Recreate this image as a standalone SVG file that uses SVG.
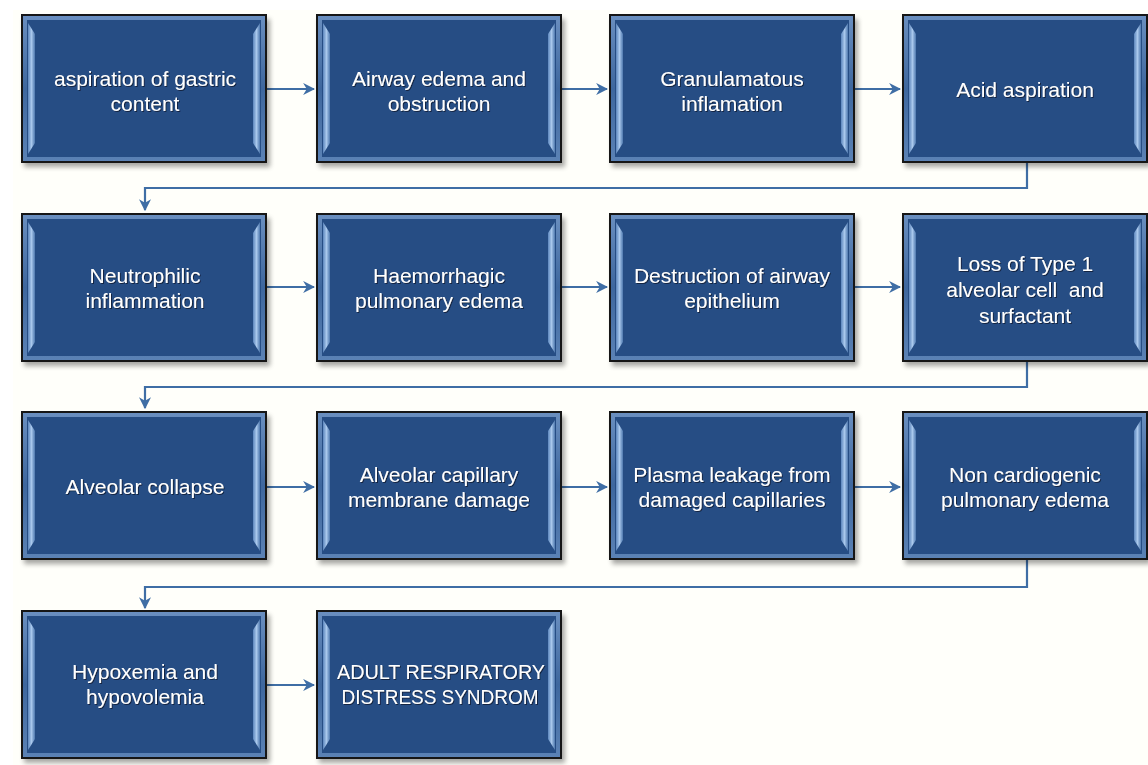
<svg xmlns="http://www.w3.org/2000/svg" xmlns:xlink="http://www.w3.org/1999/xlink" width="1148" height="765" viewBox="0 0 1148 765">
<defs>
<style>
.t{font-family:"Liberation Sans",Arial,sans-serif;font-size:21px;fill:#ffffff;text-anchor:middle;}
.c{fill:none;stroke:#3f6ea5;stroke-width:2.2;}
</style>
<linearGradient id="edge" x1="0" y1="0" x2="0" y2="1">
<stop offset="0" stop-color="#6a8fc0"/>
<stop offset="0.5" stop-color="#3e679e"/>
<stop offset="1" stop-color="#5b82b5"/>
</linearGradient>
<linearGradient id="strip" x1="0" y1="0" x2="1" y2="0">
<stop offset="0" stop-color="#5c86bd"/>
<stop offset="0.5" stop-color="#a9c8ec"/>
<stop offset="1" stop-color="#4e78ae"/>
</linearGradient>
<filter id="sh" x="-10%" y="-10%" width="130%" height="130%">
<feGaussianBlur stdDeviation="2.5"/>
</filter>
<filter id="ts" x="-5%" y="-20%" width="110%" height="150%">
<feDropShadow dx="1" dy="1" stdDeviation="0.6" flood-color="#0a1a33" flood-opacity="0.8"/>
</filter>
<marker id="ah" viewBox="0 0 10 10" refX="9" refY="5" markerWidth="5.5" markerHeight="5.5" orient="auto">
<path d="M0,0 L10,5 L0,10 L3,5 z" fill="#3f6ea5"/>
</marker>
<g id="box">
<rect x="2" y="4" width="246" height="148" fill="#000" opacity="0.35" filter="url(#sh)"/>
<rect x="0" y="0" width="244" height="147" fill="url(#edge)" stroke="#161616" stroke-width="2"/>
<rect x="5" y="5" width="234" height="137" fill="#264d84"/>
<polygon points="6,8 13,19 13,128 6,139" fill="url(#strip)"/>
<polygon points="238,8 231,19 231,128 238,139" fill="url(#strip)"/>
</g>
</defs>
<rect x="0" y="0" width="1148" height="765" fill="#ffffff"/>
<rect x="13" y="10" width="1135" height="755" fill="#fffffa"/>
<g id="connectors">
<line class="c" x1="267" y1="89" x2="314" y2="89" marker-end="url(#ah)"/>
<line class="c" x1="561" y1="89" x2="607" y2="89" marker-end="url(#ah)"/>
<line class="c" x1="854" y1="89" x2="900" y2="89" marker-end="url(#ah)"/>
<polyline class="c" points="1027,163 1027,188 145,188 145,210" marker-end="url(#ah)"/>
<line class="c" x1="267" y1="287" x2="314" y2="287" marker-end="url(#ah)"/>
<line class="c" x1="561" y1="287" x2="607" y2="287" marker-end="url(#ah)"/>
<line class="c" x1="854" y1="287" x2="900" y2="287" marker-end="url(#ah)"/>
<polyline class="c" points="1027,361 1027,387 145,387 145,408" marker-end="url(#ah)"/>
<line class="c" x1="267" y1="487" x2="314" y2="487" marker-end="url(#ah)"/>
<line class="c" x1="561" y1="487" x2="607" y2="487" marker-end="url(#ah)"/>
<line class="c" x1="854" y1="487" x2="900" y2="487" marker-end="url(#ah)"/>
<polyline class="c" points="1027,559 1027,587 145,587 145,608" marker-end="url(#ah)"/>
<line class="c" x1="267" y1="685" x2="314" y2="685" marker-end="url(#ah)"/>
</g>
<g id="n1"><use xlink:href="#box" href="#box" x="22" y="15"/><text class="t" filter="url(#ts)"><tspan x="145" y="86">aspiration of gastric</tspan><tspan x="145" y="111">content</tspan></text></g>
<g id="n2"><use xlink:href="#box" href="#box" x="317" y="15"/><text class="t" filter="url(#ts)"><tspan x="439" y="86">Airway edema and</tspan><tspan x="439" y="111">obstruction</tspan></text></g>
<g id="n3"><use xlink:href="#box" href="#box" x="610" y="15"/><text class="t" filter="url(#ts)"><tspan x="732" y="86">Granulamatous</tspan><tspan x="732" y="111">inflamation</tspan></text></g>
<g id="n4"><use xlink:href="#box" href="#box" x="903" y="15"/><text class="t" filter="url(#ts)"><tspan x="1025" y="97">Acid aspiration</tspan></text></g>
<g id="n5"><use xlink:href="#box" href="#box" x="22" y="214"/><text class="t" filter="url(#ts)"><tspan x="145" y="283">Neutrophilic</tspan><tspan x="145" y="308">inflammation</tspan></text></g>
<g id="n6"><use xlink:href="#box" href="#box" x="317" y="214"/><text class="t" filter="url(#ts)"><tspan x="439" y="283">Haemorrhagic</tspan><tspan x="439" y="308">pulmonary edema</tspan></text></g>
<g id="n7"><use xlink:href="#box" href="#box" x="610" y="214"/><text class="t" filter="url(#ts)"><tspan x="732" y="283">Destruction of airway</tspan><tspan x="732" y="308">epithelium</tspan></text></g>
<g id="n8"><use xlink:href="#box" href="#box" x="903" y="214"/><text class="t" filter="url(#ts)"><tspan x="1025" y="271">Loss of Type 1</tspan><tspan x="1025" y="297">alveolar cell&#160; and</tspan><tspan x="1025" y="323">surfactant</tspan></text></g>
<g id="n9"><use xlink:href="#box" href="#box" x="22" y="412"/><text class="t" filter="url(#ts)"><tspan x="145" y="494">Alveolar collapse</tspan></text></g>
<g id="n10"><use xlink:href="#box" href="#box" x="317" y="412"/><text class="t" filter="url(#ts)"><tspan x="439" y="482">Alveolar capillary</tspan><tspan x="439" y="507">membrane damage</tspan></text></g>
<g id="n11"><use xlink:href="#box" href="#box" x="610" y="412"/><text class="t" filter="url(#ts)"><tspan x="732" y="482">Plasma leakage from</tspan><tspan x="732" y="507">damaged capillaries</tspan></text></g>
<g id="n12"><use xlink:href="#box" href="#box" x="903" y="412"/><text class="t" filter="url(#ts)"><tspan x="1025" y="482">Non cardiogenic</tspan><tspan x="1025" y="507">pulmonary edema</tspan></text></g>
<g id="n13"><use xlink:href="#box" href="#box" x="22" y="611"/><text class="t" filter="url(#ts)"><tspan x="145" y="679">Hypoxemia and</tspan><tspan x="145" y="704">hypovolemia</tspan></text></g>
<g id="n14"><use xlink:href="#box" href="#box" x="317" y="611"/><text class="t" filter="url(#ts)"><tspan x="441" y="679" textLength="208" lengthAdjust="spacingAndGlyphs">ADULT RESPIRATORY</tspan><tspan x="440" y="704" textLength="197" lengthAdjust="spacingAndGlyphs">DISTRESS SYNDROM</tspan></text></g>
</svg>
